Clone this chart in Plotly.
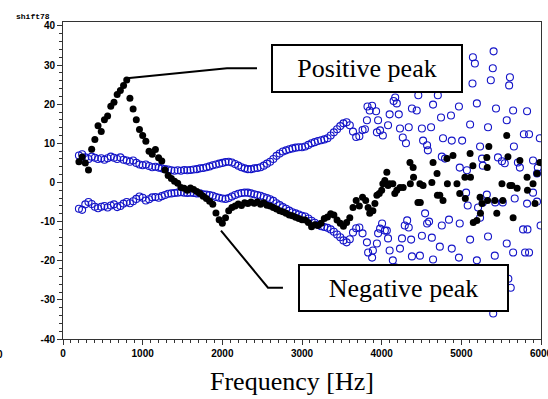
import plotly.graph_objects as go

# ---------------- data ----------------
FREQ_DENSE = [200, 240, 280, 320, 360, 400, 440, 480, 520, 560,
              600, 640, 680, 720, 760, 800, 840, 880, 920, 960,
              1000, 1040, 1080, 1120, 1160, 1200, 1240, 1280, 1320, 1360,
              1400, 1440, 1480, 1520, 1560, 1600, 1640, 1680, 1720, 1760,
              1800, 1840, 1880, 1920, 1960, 2000, 2040, 2080, 2120, 2160,
              2200, 2240, 2280, 2320, 2360, 2400, 2440, 2480, 2520, 2560,
              2600, 2640, 2680, 2720, 2760, 2800, 2840, 2880, 2920, 2960,
              3000, 3040, 3080, 3120, 3160, 3200, 3240, 3280, 3320, 3360,
              3400, 3440, 3480, 3520, 3560, 3600, 3640, 3680, 3720, 3760]

UPPER_DENSE = [6.9, 7.2, 6.4, 6.0, 6.6, 6.3, 6.0, 6.2, 5.8, 6.2,
               6.6, 6.3, 6.0, 6.4, 5.8, 5.6, 5.3, 5.6, 5.0, 4.6,
               4.4, 4.6, 4.2, 3.9, 4.0, 3.8, 3.6, 3.4, 3.3, 3.1,
               3.0, 3.1, 3.0, 3.2, 3.1, 3.2, 3.3, 3.4, 3.6, 3.7,
               3.9, 4.1, 4.4, 4.6, 4.8, 5.0, 5.2, 5.3, 5.1, 4.7,
               4.3, 3.9, 3.6, 3.4, 3.4, 3.6, 3.7, 3.9, 4.3, 4.8,
               5.3, 6.0, 6.8, 7.4, 7.9, 8.2, 8.5, 8.7, 8.9, 9.0,
               9.0, 9.2, 9.6, 10.0, 10.3, 10.6, 10.8, 11.0, 11.3, 12.0,
               12.8, 13.6, 14.4, 15.1, 15.4, 14.6, 13.0, 11.6, 11.8, 13.4]

LOWER_DENSE = [-6.7, -7.0, -5.6, -5.0, -5.5, -6.2, -6.6, -6.2, -6.0, -6.4,
               -5.9, -5.6, -6.3, -6.0, -5.4, -5.0, -5.3, -4.8, -4.2, -3.6,
               -3.9, -4.6, -4.3, -3.8, -3.7, -3.9, -3.5, -3.2, -2.9, -2.8,
               -2.7, -2.6, -2.5, -2.6, -2.7, -2.6, -2.7, -2.8, -2.8, -3.0,
               -3.1, -3.2, -3.4, -3.7, -3.9, -4.1, -4.2, -4.0, -3.6, -3.2,
               -2.9, -2.7, -2.6, -2.6, -2.8, -3.0, -3.2, -3.4, -3.7, -4.0,
               -4.3, -4.7, -5.3, -5.8, -6.3, -6.7, -7.2, -7.6, -7.9, -8.2,
               -8.5, -8.7, -9.2, -9.8, -10.3, -10.8, -11.2, -11.4, -11.6, -12.0,
               -12.6, -13.3, -14.0, -14.8, -15.3, -14.5, -12.8, -11.7, -11.5, -13.0]

SHIFT_DENSE = [5.3, 6.5, 5.0, 3.2, 8.5, 11.0, 14.5, 13.0, 16.0, 17.0,
               19.5, 20.5, 22.5, 23.5, 24.8, 26.2, 21.5, 18.8, 16.0, 13.5,
               12.0, 10.5, 8.0, 7.2, 8.4, 6.3, 5.5, 3.2, 1.8, 1.0,
               0.3, -0.2, -1.3, -1.5, -2.0, -1.4, -1.8, -2.3, -2.8, -3.5,
               -4.1, -4.8, -5.6, -7.8, -9.5, -10.4, -9.0, -7.2, -6.4, -6.0,
               -5.5, -5.9, -5.2, -5.4, -5.0, -5.3, -5.0, -5.6, -5.2, -5.8,
               -6.0, -6.4, -6.8, -7.2, -7.5, -7.9, -8.3, -8.5, -8.9, -9.2,
               -9.5, -9.6, -10.2, -11.3, -10.8, -11.0, -10.4, -9.2, -8.8, -8.0,
               -8.3, -9.6, -10.4, -11.2, -10.2, -9.0, -6.4, -4.6, -6.0, -3.8]

UPPER_SCAT_FREQ = [3790, 3815, 3822, 3850, 3880, 3930, 3940, 3955, 3980, 4015,
                   4080, 4100, 4150, 4170, 4190, 4215, 4230, 4265, 4305, 4340,
                   4380, 4440, 4460, 4505, 4520, 4570, 4580, 4620, 4645, 4705,
                   4745, 4755, 4770, 4795, 4870, 4880, 4970, 4980, 5010, 5070,
                   5110, 5140, 5145, 5170, 5195, 5235, 5260, 5270, 5335, 5370,
                   5395, 5405, 5435, 5460, 5510, 5545, 5570, 5600, 5610, 5650,
                   5660, 5710, 5735, 5785, 5825, 5850, 5900, 5950, 5960, 5985]
UPPER_SCAT_VAL = [13.6, 15.9, 19.4, 18.4, 19.6, 18.2, 12.8, 15.9, 13.3, 12.0,
                  14.6, 17.4, 20.8, 21.7, 20.2, 17.4, 13.8, 11.5, 10.0, 14.1,
                  18.9, 18.4, 22.3, 13.8, 10.7, 9.5, 8.2, 14.1, 19.9, 22.3,
                  16.6, 6.6, 11.3, 6.1, 17.1, 10.7, 19.4, 3.8, 10.7, 3.1,
                  14.8, 25.3, 32.0, 30.4, 20.2, 9.2, 6.1, 4.3, 14.1, 26.1,
                  29.2, 33.5, 18.9, 6.4, 5.4, 4.9, 15.9, 24.8, 26.9, 18.4,
                  9.2, 5.1, 3.8, 12.3, 18.2, 12.3, 5.6, 2.3, 3.8, 11.3]

LOWER_SCAT_FREQ = [3815, 3830, 3880, 3890, 3940, 3955, 3980, 4005, 4040, 4065,
                   4080, 4100, 4140, 4170, 4230, 4255, 4290, 4320, 4340, 4370,
                   4380, 4460, 4480, 4505, 4545, 4570, 4595, 4630, 4645, 4705,
                   4730, 4755, 4845, 4880, 4970, 4980, 5060, 5080, 5110, 5145,
                   5170, 5195, 5210, 5235, 5270, 5320, 5335, 5370, 5400, 5420,
                   5425, 5520, 5570, 5590, 5620, 5650, 5670, 5775, 5800, 5825,
                   5830, 5850, 5900, 5950, 5995]
LOWER_SCAT_VAL = [-15.3, -17.9, -19.2, -17.4, -15.6, -13.0, -11.8, -10.5, -12.3, -12.3,
                  -14.3, -17.4, -19.9, -21.7, -16.9, -14.3, -11.0, -9.7, -11.5, -14.6,
                  -18.9, -22.3, -18.7, -13.6, -7.9, -10.5, -10.0, -14.1, -19.7, -22.3,
                  -16.4, -11.0, -9.5, -16.9, -19.2, -10.5, -2.6, -5.9, -14.6, -32.0,
                  -30.4, -19.9, -6.4, -9.0, -5.1, -3.1, -13.8, -26.1, -33.5, -18.7,
                  -5.1, -5.1, -15.6, -24.6, -26.9, -17.9, -4.1, -12.0, -17.9, -5.4,
                  -12.0, -17.9, -2.6, -4.9, -11.0]

SHIFT_SCAT_FREQ = [3800, 3830, 3850, 3890, 3915, 3940, 3970, 4000, 4015, 4040,
                   4065, 4080, 4100, 4140, 4165, 4190, 4230, 4270, 4355, 4360,
                   4395, 4400, 4455, 4480, 4485, 4520, 4630, 4645, 4695, 4700,
                   4730, 4770, 4820, 4825, 4895, 4945, 4980, 5045, 5050, 5110,
                   5115, 5145, 5150, 5195, 5235, 5240, 5260, 5320, 5325, 5330,
                   5345, 5420, 5445, 5510, 5520, 5570, 5585, 5610, 5635, 5650,
                   5700, 5735, 5825, 5830, 5900, 5925, 5950, 5985]
SHIFT_SCAT_VAL = [-4.6, -6.4, -7.9, -7.2, -5.4, -3.3, -2.8, -2.0, -0.3, 0.5,
                  2.6, -0.8, -0.3, -0.3, -2.8, -2.0, -1.3, -1.3, 5.1, -0.3,
                  3.8, 1.3, -5.1, -0.3, -5.1, -0.8, 0.0, 5.1, 2.3, -3.3,
                  -3.3, -4.6, 6.1, -0.3, 6.9, -0.3, -2.8, 1.3, -4.1, 7.4,
                  1.3, 4.3, -10.2, -9.7, -3.8, -7.9, -5.4, 6.4, 3.8, -4.6,
                  9.2, -4.6, -7.9, -0.3, -4.6, 12.0, 6.6, -0.8, -0.8, -9.0,
                  -1.5, 5.6, 1.3, -2.0, -0.3, -5.4, 2.3, 5.1]

X_TICKS = [0, 1000, 2000, 3000, 4000, 5000, 6000]
X_TICK_LABELS = ["0", "1000", "2000", "3000", "4000", "5000", "6000"]
Y_TICKS = [-40, -30, -20, -10, 0, 10, 20, 30, 40]
Y_TICK_LABELS = ["-40", "-30", "-20", "-10", "0", "10", "20", "30", "40"]

X_TITLE = "Frequency [Hz]"
Y_TITLE = "shift78"
POS_LABEL = "Positive peak"
NEG_LABEL = "Negative peak"

# ---------------- figure ----------------
BLUE = "#1414c8"
fig = go.Figure()

blue_marker = dict(symbol="circle-open", size=7, color=BLUE, line=dict(width=1.1, color=BLUE))
fig.add_trace(go.Scatter(x=FREQ_DENSE + UPPER_SCAT_FREQ, y=UPPER_DENSE + UPPER_SCAT_VAL,
                         mode="markers", marker=blue_marker, showlegend=False))
fig.add_trace(go.Scatter(x=FREQ_DENSE + LOWER_SCAT_FREQ, y=LOWER_DENSE + LOWER_SCAT_VAL,
                         mode="markers", marker=blue_marker, showlegend=False))
fig.add_trace(go.Scatter(x=FREQ_DENSE + SHIFT_SCAT_FREQ, y=SHIFT_DENSE + SHIFT_SCAT_VAL,
                         mode="markers", marker=dict(symbol="circle", size=7, color="black"),
                         showlegend=False))

AX = "#333333"
tickfont = dict(family="Liberation Sans", size=10, color="black", weight="bold")
fig.update_xaxes(range=[0, 6000], showline=True, linecolor=AX, linewidth=1, mirror=True,
                 ticks="outside", ticklen=5, tickcolor=AX, tickmode="array",
                 tickvals=X_TICKS, ticktext=X_TICK_LABELS, tickfont=tickfont,
                 ticklabeloverflow="allow", automargin=False,
                 minor=dict(ticks="outside", ticklen=3, dtick=100, tick0=0, tickcolor=AX),
                 showgrid=False, zeroline=False)
fig.update_yaxes(range=[-40, 41.0], showline=True, linecolor=AX, linewidth=1, mirror=True,
                 ticks="outside", ticklen=5, tickcolor=AX, tickmode="array",
                 tickvals=Y_TICKS, ticktext=Y_TICK_LABELS, tickfont=tickfont,
                 ticklabeloverflow="allow", automargin=False,
                 minor=dict(ticks="outside", ticklen=3, dtick=2, tick0=0, tickcolor=AX),
                 showgrid=False, zeroline=False)

# leader lines (annotation geometry)
fig.add_shape(type="path", xref="x", yref="y",
              path="M 803,26.6 L 2058,29.2 L 2435,29.2",
              line=dict(color="black", width=2))
fig.add_shape(type="path", xref="x", yref="y",
              path="M 1983,-12.3 L 2573,-26.9 L 2761,-26.9",
              line=dict(color="black", width=2))

serif = dict(family="Liberation Serif", size=26, color="black")
fig.add_annotation(x=3815, y=29.0, xref="x", yref="y", text=POS_LABEL, showarrow=False,
                   font=serif, bgcolor="white", bordercolor="black", borderwidth=2,
                   borderpad=0, width=188, height=45, xanchor="center", yanchor="middle")
fig.add_annotation(x=4273, y=-26.9, xref="x", yref="y", text=NEG_LABEL, showarrow=False,
                   font=serif, bgcolor="white", bordercolor="black", borderwidth=2,
                   borderpad=0, width=207, height=44, xanchor="center", yanchor="middle")

fig.add_annotation(x=0.479, y=-0.1325, xref="paper", yref="paper", text=X_TITLE,
                   showarrow=False, font=serif, xanchor="center", yanchor="middle")
fig.add_annotation(x=-0.1025, y=1.0174, xref="paper", yref="paper", text=Y_TITLE,
                   showarrow=False, xanchor="left", yanchor="middle",
                   font=dict(family="Liberation Mono", size=8, color="black", weight="bold"))
fig.add_annotation(x=-0.131, y=-0.05, xref="paper", yref="paper", text="0",
                   showarrow=False, xanchor="center", yanchor="middle", font=tickfont)

fig.update_layout(width=548, height=399, margin=dict(l=63, r=7, t=22, b=60, autoexpand=False),
                  paper_bgcolor="white", plot_bgcolor="white")

fig.write_html("out.html")
